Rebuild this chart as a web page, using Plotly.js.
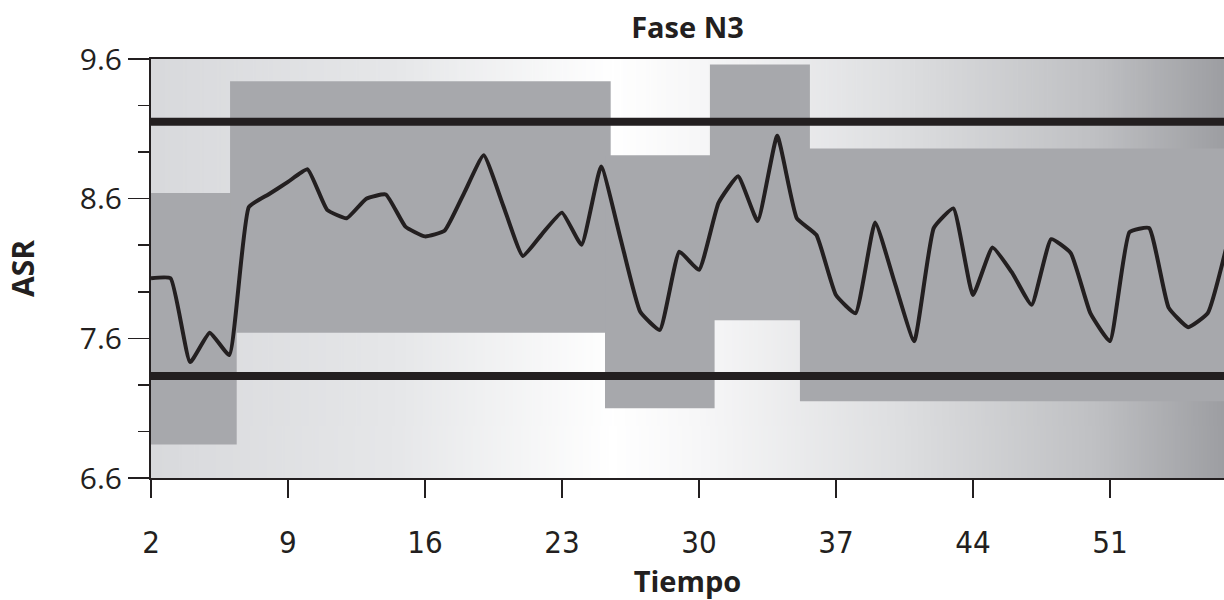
<!DOCTYPE html>
<html>
<head>
<meta charset="utf-8">
<script src="https://cdn.plot.ly/plotly-3.0.1.min.js"></script>
<style>
  html, body { margin: 0; padding: 0; overflow: hidden; background: #ffffff; }
  #chart { width: 1224px; height: 600px; }
</style>
</head>
<body>
<div id="chart"></div>
<script>
// ---- Data ----
const tiempo = [2,3,4,5,6,7,8,9,10,11,12,13,14,15,16,17,18,19,20,21,22,23,24,25,26,27,28,29,30,
                31,32,33,34,35,36,37,38,39,40,41,42,43,44,45,46,47,48,49,50,51,52,53,54,55,56,57];
const asr = [8.03,8.03,7.43,7.64,7.48,8.54,8.63,8.72,8.81,8.52,8.46,8.60,8.63,8.40,8.33,8.37,8.64,8.91,
             8.55,8.19,8.35,8.50,8.27,8.83,8.31,7.79,7.66,8.22,8.09,8.57,8.76,8.44,9.05,8.46,8.34,7.91,
             7.78,8.43,8.00,7.58,8.39,8.53,7.91,8.25,8.07,7.84,8.31,8.21,7.78,7.58,8.36,8.39,7.82,7.68,7.78,8.28];

// phase bands (grey regions)
const bandStart = [2.00, 6.04, 25.20, 30.56, 35.16];
const bandEnd   = [6.38, 25.49, 30.80, 35.67, 58.00];
const bandLow   = [6.84, 7.64, 7.10, 7.73, 7.15];
const bandHigh  = [8.64, 9.44, 8.91, 9.56, 8.96];

// horizontal limit lines
const limits = [9.15, 7.33];

const xTickStart = 2, xTickStep = 7;
const yTickStart = 6.6, yTickStep = 1;

// ---- Background gradient (style only) ----
function gradientImage() {
  const c = document.createElement('canvas');
  c.width = 1000; c.height = 4;
  const g = c.getContext('2d');
  const lg = g.createLinearGradient(0, 0, 1000, 0);
  lg.addColorStop(0.00, '#d8d9dc');
  lg.addColorStop(0.23, '#e6e7e9');
  lg.addColorStop(0.43, '#ffffff');
  lg.addColorStop(0.51, '#f7f7f8');
  lg.addColorStop(0.70, '#dddee0');
  lg.addColorStop(0.88, '#bfc0c3');
  lg.addColorStop(1.00, '#9d9ea2');
  g.fillStyle = lg;
  g.fillRect(0, 0, 1000, 4);
  return c.toDataURL('image/png');
}

const ink = '#231f20';
const bandColor = '#a7a8ac';

const shapes = [];
for (let i = 0; i < bandStart.length; i++) {
  shapes.push({
    type: 'rect', xref: 'x', yref: 'y', layer: 'below',
    x0: bandStart[i], x1: bandEnd[i], y0: bandLow[i], y1: bandHigh[i],
    fillcolor: bandColor, line: { width: 0 }
  });
}
limits.forEach(v => shapes.push({
  type: 'line', xref: 'paper', yref: 'y', layer: 'above',
  x0: 0, x1: 1, y0: v, y1: v,
  line: { color: ink, width: 8 }
}));

const traces = [{
  type: 'scatter', mode: 'lines',
  x: tiempo, y: asr,
  line: { color: ink, width: 4, shape: 'spline', smoothing: 0.4 },
  hoverinfo: 'x+y', showlegend: false
}];

const layout = {
  width: 1224, height: 600,
  margin: { l: 151, r: 0, t: 59, b: 122 },
  paper_bgcolor: '#ffffff',
  plot_bgcolor: '#ffffff',
  showlegend: false,
  title: {
    text: '<b>Fase N3</b>',
    font: { family: 'Open Sans, sans-serif', size: 29, color: ink },
    x: 0.5, xref: 'paper', y: 0.953, yanchor: 'middle'
  },
  images: [{
    source: gradientImage(), xref: 'paper', yref: 'paper',
    x: 0, y: 1, sizex: 1, sizey: 1, sizing: 'stretch',
    xanchor: 'left', yanchor: 'top', layer: 'below'
  }],
  shapes: shapes,
  xaxis: {
    range: [2, 56.83],
    tick0: xTickStart, dtick: xTickStep, tickmode: 'linear',
    ticks: 'outside', ticklen: 18, tickwidth: 1.5, tickcolor: ink,
    ticklabelstandoff: 18,
    showline: true, linecolor: ink, linewidth: 2, mirror: true,
    showgrid: false, zeroline: false,
    tickfont: { family: '"Liberation Sans Narrow", "DejaVu Sans Condensed", sans-serif', size: 31, color: ink },
    title: { text: '<b>Tiempo</b>', font: { family: 'Open Sans, sans-serif', size: 29, color: ink }, standoff: 24 }
  },
  yaxis: {
    range: [6.6, 9.6],
    tick0: yTickStart, dtick: yTickStep, tickmode: 'linear', tickformat: '.1f',
    ticks: 'outside', ticklen: 21, tickwidth: 1.5, tickcolor: ink,
    minor: { tick0: yTickStart, dtick: 1/3, ticks: 'outside', ticklen: 11, tickwidth: 1.5, tickcolor: ink, showgrid: false },
    showline: true, linecolor: ink, linewidth: 2, mirror: false,
    showgrid: false, zeroline: false,
    tickfont: { family: 'Open Sans, sans-serif', size: 30, color: ink },
    title: { text: '<b>ASR</b>', font: { family: 'Open Sans, sans-serif', size: 30, color: ink }, standoff: 36 }
  }
};

Plotly.newPlot('chart', traces, layout, { displayModeBar: false, staticPlot: true });
</script>
</body>
</html>
